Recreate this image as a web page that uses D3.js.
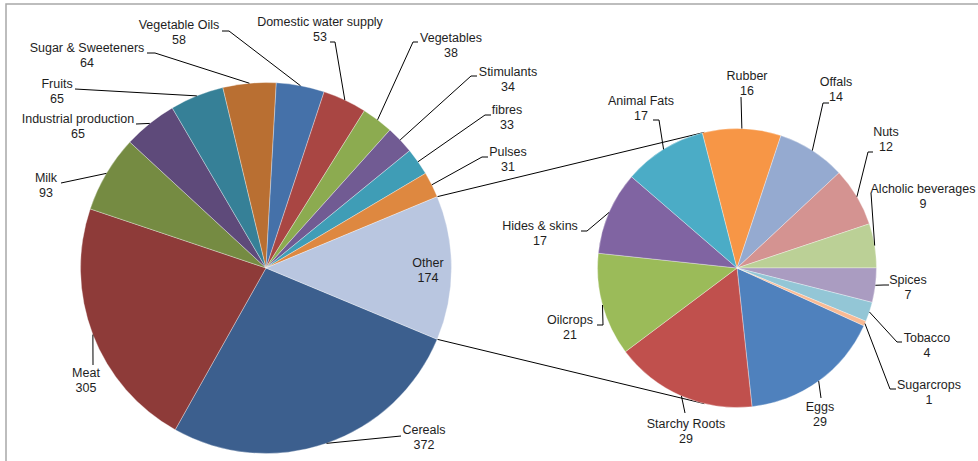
<!DOCTYPE html>
<html>
<head>
<meta charset="utf-8">
<script src="https://cdn.jsdelivr.net/npm/d3@7"></script>
<style>
  html, body { margin: 0; padding: 0; background: #fff; }
  svg { display: block; }
  text { font-family: "Liberation Sans", Arial, sans-serif; font-size: 12.5px; fill: #1e1e1e; }
</style>
</head>
<body>
<svg id="chart" width="978" height="461"></svg>
<script>
// Main pie: categories and values (the last one, "Other", is split out into the second pie)
const mainCategories = ["Cereals", "Meat", "Milk", "Industrial production", "Fruits",
  "Sugar & Sweeteners", "Vegetable Oils", "Domestic water supply", "Vegetables",
  "Stimulants", "fibres", "Pulses", "Other"];
const mainValues = [372, 305, 93, 65, 65, 64, 58, 53, 38, 34, 33, 31, 174];
const mainColors = ["#3c5f8e", "#8e3b39", "#758b42", "#5e4a7a", "#368097", "#b96f32",
  "#4571a9", "#a94643", "#8cab50", "#715b93", "#3f9db6", "#de8840", "#b9c6e0"];

// Second pie: breakdown of "Other"
const otherCategories = ["Eggs", "Starchy Roots", "Oilcrops", "Hides & skins", "Animal Fats",
  "Rubber", "Offals", "Nuts", "Alcholic beverages", "Spices", "Tobacco", "Sugarcrops"];
const otherValues = [29, 29, 21, 17, 17, 16, 14, 12, 9, 7, 4, 1];
const otherColors = ["#4f81bd", "#c0504d", "#9bbb59", "#8064a2", "#4bacc6", "#f79646",
  "#95aad0", "#d49391", "#bbd096", "#aa9cc1", "#93c6d6", "#f9ba94"];

// Label layout: text anchor (centre of the name line) and the label-side leader points
const mainLabelLayout = {
  "Cereals": { at: [424, 434], lead: [[401, 436]] },
  "Meat": { at: [86, 377], lead: [[93, 365]] },
  "Milk": { at: [46, 182], lead: [[61, 183]] },
  "Industrial production": { at: [78, 123], lead: [[136, 124]] },
  "Fruits": { at: [57, 88], lead: [[75, 89]] },
  "Sugar & Sweeteners": { at: [87, 52], lead: [[147, 53], [155, 53]] },
  "Vegetable Oils": { at: [179, 29], lead: [[222, 31], [229, 31]] },
  "Domestic water supply": { at: [320, 26], lead: [[330, 42], [335, 42]] },
  "Vegetables": { at: [451, 42], lead: [[418, 42], [413, 42]] },
  "Stimulants": { at: [508, 76], lead: [[477, 76], [471, 76]] },
  "fibres": { at: [507, 114], lead: [[491, 115], [485, 115]] },
  "Pulses": { at: [508, 156], lead: [[488, 157], [482, 157]] },
  "Other": { at: [428, 267], lead: null }
};
const otherLabelLayout = {
  "Eggs": { at: [820, 411], lead: [[821, 398]] },
  "Starchy Roots": { at: [686, 428], lead: [[685, 413]] },
  "Oilcrops": { at: [570, 324], lead: [[597, 325], [603, 325]] },
  "Hides & skins": { at: [540, 230], lead: [[581, 231], [587, 231]] },
  "Animal Fats": { at: [641, 105], lead: [[653, 120], [659, 120]] },
  "Rubber": { at: [747, 80], lead: [[741, 97]] },
  "Offals": { at: [836, 86], lead: [[829, 103], [823, 103]] },
  "Nuts": { at: [886, 136], lead: [[873, 152], [868, 152]] },
  "Alcholic beverages": { at: [923, 193], lead: [[871, 193]] },
  "Spices": { at: [908, 284], lead: [[889, 285], [884, 285]] },
  "Tobacco": { at: [927, 342], lead: [[902, 342], [897, 342]] },
  "Sugarcrops": { at: [929, 389], lead: [[896, 389], [890, 389]] }
};

const svg = d3.select("#chart");

// chart area frame
svg.append("rect")
  .attr("x", 6).attr("y", 4).attr("width", 1200).attr("height", 1200)
  .attr("fill", "none").attr("stroke", "#a8a8a8").attr("stroke-width", 1.5);

const main = { cx: 266, cy: 268, r: 185.5 };
const second = { cx: 737, cy: 268, r: 139.5 };
const deg = Math.PI / 180;

// "Other" slice is centred on the 3 o'clock direction
const mainTotal = d3.sum(mainValues);
const otherSpan = mainValues[mainValues.length - 1] / mainTotal * 2 * Math.PI;
const mainStart = Math.PI / 2 + otherSpan / 2;

const mainData = mainCategories.map((c, i) => ({ name: c, value: mainValues[i], color: mainColors[i] }));
const otherData = otherCategories.map((c, i) => ({ name: c, value: otherValues[i], color: otherColors[i] }));

const mainPie = d3.pie().sort(null).value(d => d.value)
  .startAngle(mainStart).endAngle(mainStart + 2 * Math.PI);
const secondStart = 114.5 * deg;
const otherPie = d3.pie().sort(null).value(d => d.value)
  .startAngle(secondStart).endAngle(secondStart + 2 * Math.PI);

function pointAt(pie, angle, radius) {
  return [pie.cx + radius * Math.sin(angle), pie.cy - radius * Math.cos(angle)];
}

function drawPie(geom, arcs, layout) {
  const g = svg.append("g").attr("transform", `translate(${geom.cx},${geom.cy})`);
  const arc = d3.arc().innerRadius(0).outerRadius(geom.r);
  g.selectAll("path").data(arcs).join("path")
    .attr("d", arc)
    .attr("fill", d => d.data.color)
    .attr("stroke", "#ffffff").attr("stroke-opacity", 0.55).attr("stroke-width", 0.6);

  const lab = svg.append("g");
  arcs.forEach(d => {
    const L = layout[d.data.name];
    if (L.lead) {
      const mid = (d.startAngle + d.endAngle) / 2;
      const pts = L.lead.concat([pointAt(geom, mid, geom.r)]);
      lab.append("path")
        .attr("d", d3.line()(pts))
        .attr("fill", "none").attr("stroke", "#000").attr("stroke-width", 1);
    }
    const t = lab.append("text").attr("text-anchor", "middle");
    t.append("tspan").attr("x", L.at[0]).attr("y", L.at[1]).text(d.data.name);
    t.append("tspan").attr("x", L.at[0]).attr("y", L.at[1] + 14.5).text(d.data.value);
  });
}

const mainArcs = mainPie(mainData);
const otherArcs = otherPie(otherData);

// connector lines: tangents from the edges of "Other" to the second pie
const otherArc = mainArcs[mainArcs.length - 1];
function tangentPoint(p, upper) {
  const dx = p[0] - second.cx, dy = p[1] - second.cy;
  const d = Math.hypot(dx, dy);
  const base = Math.atan2(dx, -dy);
  const off = Math.acos(second.r / d);
  const a = upper ? base + off : base - off;
  return pointAt(second, a, second.r);
}
const pTop = pointAt(main, otherArc.startAngle, main.r);
const pBot = pointAt(main, otherArc.endAngle, main.r);
const conn = svg.append("g");
conn.append("path").attr("d", d3.line()([pTop, tangentPoint(pTop, true)]))
  .attr("stroke", "#000").attr("stroke-width", 1);
conn.append("path").attr("d", d3.line()([pBot, tangentPoint(pBot, false)]))
  .attr("stroke", "#000").attr("stroke-width", 1);

drawPie(main, mainArcs, mainLabelLayout);
drawPie(second, otherArcs, otherLabelLayout);
</script>
</body>
</html>
